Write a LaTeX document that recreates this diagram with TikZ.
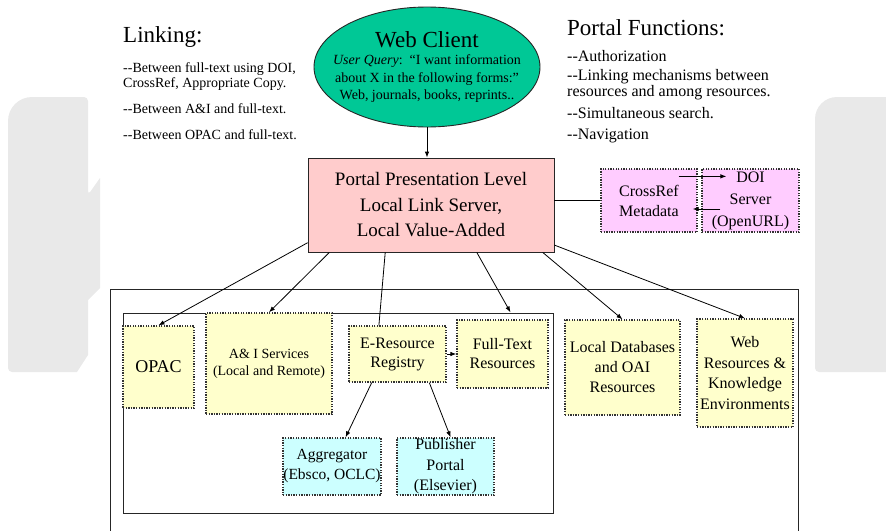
\documentclass[tikz,border=0pt]{standalone}
\usepackage{fontspec}
\setmainfont{Liberation Serif}
\usetikzlibrary{shapes.geometric,arrows.meta,calc}

\definecolor{clientgreen}{RGB}{0,200,150}
\definecolor{portalpink}{RGB}{255,204,204}
\definecolor{refviolet}{RGB}{255,204,255}
\definecolor{resyellow}{RGB}{255,255,204}
\definecolor{aggcyan}{RGB}{204,255,255}
\definecolor{wmarkgray}{RGB}{233,233,233}

\newcommand{\fsz}[2]{\fontsize{#1}{#2}\selectfont}

\tikzset{
  dotbox/.style={draw=black!80, line width=1.3pt, dash pattern=on 1.3pt off 1.3pt, align=center, inner sep=0pt},
  resbox/.style={dotbox, fill=resyellow},
  aggbox/.style={dotbox, fill=aggcyan},
  refbox/.style={dotbox, fill=refviolet},
  frame/.style={draw=black!85, line width=0.8pt},
  conn/.style={line width=0.8pt},
  link/.style={line width=0.8pt, -{Latex[length=6pt,width=4.5pt]}},
  listtext/.style={anchor=base west, inner sep=0pt},
}

\begin{document}
\begin{tikzpicture}[x=1pt,y=-1pt]
  \useasboundingbox (0,0) rectangle (886,530);
  \fill[wmarkgray] (8,200) [rounded corners=24pt]-- (8,97) -- (60,97) [rounded corners=4pt]-- (88,97) -- (88,195)
    [sharp corners]-- (100,178) -- (100,288) -- (88,300) -- (88,355) -- (77,372) [rounded corners=4pt]-- (8,372) -- cycle;
  \fill[wmarkgray] (890,372) -- (890,97) [rounded corners=22pt]-- (815,97) [rounded corners=4pt]-- (815,372) -- cycle;

  \node[listtext, font=\fsz{23}{26}] (linkhead) at (123,42) {Linking:};
  \node[listtext, font=\fsz{14}{15}] (link1) at (123,72) {-{}-Between full-text using DOI,};
  \node[listtext, font=\fsz{14}{15}] (link1b) at (123,87) {CrossRef, Appropriate Copy.};
  \node[listtext, font=\fsz{14}{15}] (link2) at (123,113) {-{}-Between A\&I and full-text.};
  \node[listtext, font=\fsz{14}{15}] (link3) at (123,139) {-{}-Between OPAC and full-text.};

  \node[listtext, font=\fsz{23}{26}] (funchead) at (567,35) {Portal Functions:};
  \node[listtext, font=\fsz{16}{17}] (func1) at (567,61) {-{}-Authorization};
  \node[listtext, font=\fsz{16}{17}] (func2) at (567,80) {-{}-Linking mechanisms between};
  \node[listtext, font=\fsz{16}{17}] (func2b) at (567,96) {resources and among resources.};
  \node[listtext, font=\fsz{16}{17}] (func3) at (567,118) {-{}-Simultaneous search.};
  \node[listtext, font=\fsz{16}{17}] (func4) at (567,139) {-{}-Navigation};

  \node[ellipse, draw=black!85, line width=0.9pt, fill=clientgreen, minimum width=226pt, minimum height=120pt] (client) at (427,67) {};
  \node[align=center, inner sep=0pt, font=\fsz{14}{17.5}] (clienttext) at (client.center)
    {{\fsz{23}{23}Web Client}\\ \textit{User Query}:\ \ “I want information\\ about X in the following forms:”\\ Web, journals, books, reprints..};

  \node[draw=black!85, line width=0.8pt, fill=portalpink, minimum width=246pt, minimum height=94pt, align=center, font=\fsz{19}{25.5}] (portal) at (431,205)
    {Portal Presentation Level\\ Local Link Server,\\ Local Value-Added};
  \node[refbox, minimum width=96pt, minimum height=63pt, font=\fsz{16}{20}] (crossref) at (649,200.5) {CrossRef\\Metadata};
  \node[refbox, minimum width=97pt, minimum height=63pt, font=\fsz{16}{22}] (doi) at (750.5,200.5) {DOI\\Server\\(OpenURL)};

  \draw[frame] (110,531) -- (110,289) -- (798,289) -- (798,531);
  \draw[frame] (123,313) rectangle (553,513);

  \node[resbox, minimum width=71pt, minimum height=82pt, font=\fsz{18}{20}] (opac) at (158.5,367) {OPAC};
  \node[resbox, minimum width=126pt, minimum height=101pt, font=\fsz{14}{17}] (ai) at (269,363.5) {A\& I Services\\(Local and Remote)};
  \node[resbox, minimum width=97pt, minimum height=56pt, font=\fsz{16}{19}] (ereg) at (397.5,354) {E-Resource\\Registry};
  \node[resbox, minimum width=91pt, minimum height=68pt, font=\fsz{16}{19}] (ft) at (502.5,354) {Full-Text\\Resources};
  \node[resbox, minimum width=115pt, minimum height=95pt, font=\fsz{16}{20}] (ldb) at (622.5,367.5) {Local Databases\\and OAI\\Resources};
  \node[resbox, minimum width=96pt, minimum height=108pt, font=\fsz{16}{20.5}] (webres) at (745,373) {Web\\Resources \&\\Knowledge\\Environments};
  \node[aggbox, minimum width=98pt, minimum height=57pt, font=\fsz{15.5}{20}] (agg) at (332,466.5) {Aggregator\\(Ebsco, OCLC)};
  \node[aggbox, minimum width=97pt, minimum height=57pt, font=\fsz{16}{20.5}] (pub) at (445.5,466.5) {Publisher\\Portal\\(Elsevier)};

  \draw[link] (client.south) -- (client.south |- portal.north);
  \draw[conn] (portal.east |- crossref.west) -- (crossref.west);
  \draw[link] ($(crossref.north east)+(-19,8)$) -- ($(doi.north west)+(25,8)$);
  \draw[link] ($(doi.west)+(19,8.5)$) -- ($(crossref.east)+(-5,8.5)$);
  \draw[link] (portal.197) -- (opac.north);
  \draw[link] (portal.205) -- (ai.north);
  \draw[conn] (portal.226) -- (ereg.123);
  \draw[link] (portal.314) -- ($(ft.north)+(8,-7)$);
  \draw[link] (portal.337) -- (ldb.north);
  \draw[link] (portal.342) -- (webres.north);
  \draw[link] (ereg.east) -- (ft.west);
  \draw[link] (ereg.228) -- (agg.65);
  \draw[link] (ereg.318) -- (pub.80);
\end{tikzpicture}
\end{document}
